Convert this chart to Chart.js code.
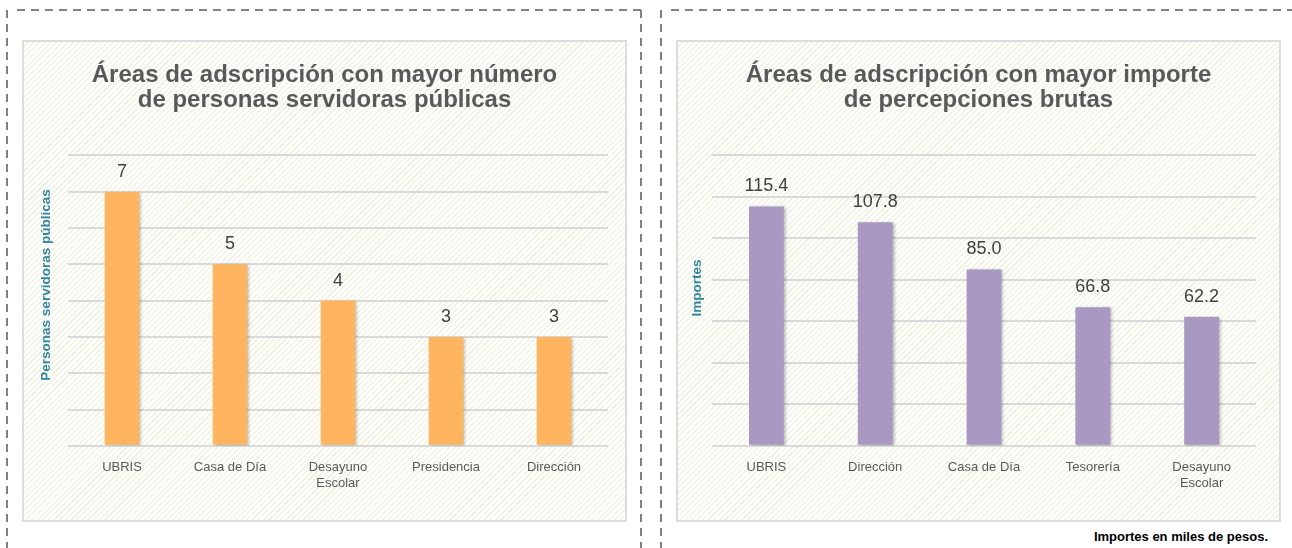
<!DOCTYPE html>
<html lang="es">
<head>
<meta charset="UTF-8">
<title>Áreas de adscripción</title>
<script src="https://cdn.jsdelivr.net/npm/chart.js"></script>
<style>
  body { margin: 0; width: 1292px; height: 548px; background: #fff; position: relative; overflow: hidden; font-family: "Liberation Sans", Arial, sans-serif; }
  .box {
    position: absolute; top: 40px; width: 605px; height: 482px; box-sizing: border-box;
    border: 2px solid #dcdcdc;
    background: repeating-linear-gradient(135deg, #ffffff 0px, #ffffff 2.5px, #eff3e2 2.5px, #eff3e2 4px);
  }
  .box canvas { position: absolute; left: -2px; top: -2px; }
  #dash { position: absolute; left: 0; top: 0; }
  #note { position: absolute; right: 24px; top: 529px; font-size: 13px; font-weight: bold; color: #000; line-height: 16px; }
</style>
</head>
<body>
<svg id="dash" width="1292" height="548">
  <g stroke="#808080" stroke-width="2" stroke-dasharray="8 6" fill="none">
    <line x1="7" y1="10" x2="7" y2="548"/>
    <line x1="17" y1="10" x2="641" y2="10"/>
    <line x1="641" y1="10" x2="641" y2="548"/>
    <line x1="661" y1="10" x2="661" y2="548"/>
    <line x1="671" y1="10" x2="1292" y2="10"/>
  </g>
</svg>
<div class="box" style="left:22px"><canvas id="left" width="605" height="482"></canvas></div>
<div class="box" style="left:676px"><canvas id="right" width="605" height="482"></canvas></div>
<div id="note">Importes en miles de pesos.</div>

<script>
  // personas servidoras públicas por área
  const areasPersonas = ['UBRIS', 'Casa de Día', ['Desayuno', 'Escolar'], 'Presidencia', 'Dirección'];
  const personas = [7, 5, 4, 3, 3];

  // importes en miles de pesos por área
  const areasImportes = ['UBRIS', 'Dirección', 'Casa de Día', 'Tesorería', ['Desayuno', 'Escolar']];
  const importes = [115.4, 107.8, 85.0, 66.8, 62.2];

  const FONT = '"Liberation Sans", Arial, sans-serif';

  // sombra suave en las barras
  const barShadow = {
    id: 'barShadow',
    beforeDatasetsDraw(chart) {
      const ctx = chart.ctx;
      ctx.save();
      ctx.shadowColor = 'rgba(0,0,0,0.28)';
      ctx.shadowBlur = 3;
      ctx.shadowOffsetX = 2;
      ctx.shadowOffsetY = 1;
    },
    afterDatasetsDraw(chart) {
      chart.ctx.restore();
    }
  };

  // etiquetas de valor encima de cada barra
  const valueLabels = {
    id: 'valueLabels',
    afterDatasetsDraw(chart, args, opts) {
      const ctx = chart.ctx;
      const meta = chart.getDatasetMeta(0);
      const data = chart.data.datasets[0].data;
      ctx.save();
      ctx.font = '18px ' + FONT;
      ctx.fillStyle = '#404040';
      ctx.textAlign = 'center';
      ctx.textBaseline = 'middle';
      meta.data.forEach((bar, i) => {
        ctx.fillText(opts.fmt(data[i]), bar.x, bar.y - 20);
      });
      ctx.restore();
    }
  };

  // título del eje vertical (algo por encima del centro, como en el original)
  const axisTitle = {
    id: 'axisTitle',
    afterDraw(chart, args, opts) {
      const ctx = chart.ctx;
      ctx.save();
      ctx.translate(opts.x, opts.y);
      ctx.rotate(-Math.PI / 2);
      ctx.font = 'bold 13.5px ' + FONT;
      ctx.fillStyle = '#31859c';
      ctx.textAlign = 'center';
      ctx.textBaseline = 'middle';
      ctx.fillText(opts.text, 0, 0);
      ctx.restore();
    }
  };

  function makeChart(id, labels, values, color, title, yTitle, yMax, yStep, pad, fmt) {
    new Chart(document.getElementById(id), {
      type: 'bar',
      data: {
        labels: labels,
        datasets: [{
          data: values,
          backgroundColor: color,
          borderWidth: 0,
          categoryPercentage: 1,
          barPercentage: 0.32
        }]
      },
      plugins: [barShadow, valueLabels, axisTitle],
      options: {
        responsive: false,
        animation: false,
        events: [],
        layout: { padding: { left: pad.side, right: pad.side, top: 0, bottom: pad.bottom } },
        plugins: {
          legend: { display: false },
          tooltip: { enabled: false },
          valueLabels: { fmt: fmt },
          axisTitle: { text: yTitle, x: pad.tx, y: pad.ty },
          title: {
            display: true,
            text: title,
            color: '#595959',
            font: { family: FONT, size: 24, weight: 'bold', lineHeight: 1.05 },
            padding: { top: 23, bottom: 42 }
          }
        },
        scales: {
          x: {
            grid: { display: false },
            border: { display: false },
            ticks: { color: '#595959', font: { family: FONT, size: 13 }, padding: 6, maxRotation: 0, autoSkip: false }
          },
          y: {
            min: 0,
            max: yMax,
            afterFit: s => { s.width = pad.yw; },
            ticks: { display: false, stepSize: yStep },
            border: { display: false },
            grid: { color: '#d9d9d9', lineWidth: 2, drawTicks: false }
          }
        }
      }
    });
  }

  makeChart('left', areasPersonas, personas, '#ffb55f',
    ['Áreas de adscripción con mayor número', 'de personas servidoras públicas'],
    'Personas servidoras públicas', 8, 1,
    { side: 19, yw: 27, bottom: 25, tx: 24, ty: 245 }, v => String(v));

  makeChart('right', areasImportes, importes, '#a898c2',
    ['Áreas de adscripción con mayor importe', 'de percepciones brutas'],
    'Importes', 140, 20,
    { side: 25, yw: 11, bottom: 25, tx: 21, ty: 248 }, v => v.toFixed(1));
</script>
</body>
</html>
